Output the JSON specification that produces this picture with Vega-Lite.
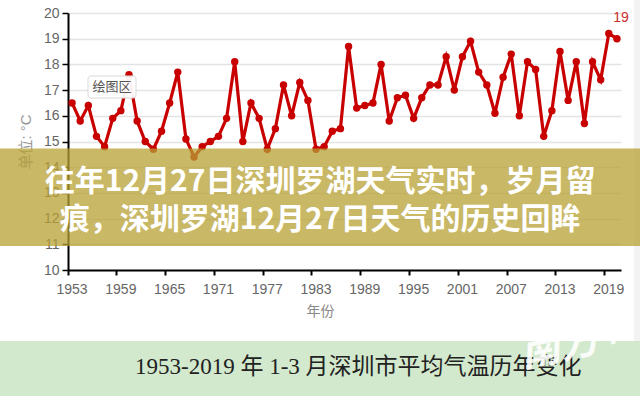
{
  "$schema": "https://vega.github.io/schema/vega-lite/v6.json",
  "width": 553,
  "height": 257,
  "autosize": "none",
  "padding": {"left": 68, "top": 13, "right": 19, "bottom": 126},
  "background": "white",
  "config": {"view": {"stroke": null}, "font": "Liberation Sans, Noto Sans CJK SC"},
  "datasets": {
    "temps": [
      {"year": 1953, "temp": 16.5}, {"year": 1954, "temp": 15.8}, {"year": 1955, "temp": 16.4}, {"year": 1956, "temp": 15.2},
      {"year": 1957, "temp": 14.8}, {"year": 1958, "temp": 15.9}, {"year": 1959, "temp": 16.2}, {"year": 1960, "temp": 17.6},
      {"year": 1961, "temp": 15.8}, {"year": 1962, "temp": 15.0}, {"year": 1963, "temp": 14.7}, {"year": 1964, "temp": 15.4},
      {"year": 1965, "temp": 16.5}, {"year": 1966, "temp": 17.7}, {"year": 1967, "temp": 15.1}, {"year": 1968, "temp": 14.4},
      {"year": 1969, "temp": 14.8}, {"year": 1970, "temp": 15.0}, {"year": 1971, "temp": 15.2}, {"year": 1972, "temp": 15.9},
      {"year": 1973, "temp": 18.1}, {"year": 1974, "temp": 15.0}, {"year": 1975, "temp": 16.5}, {"year": 1976, "temp": 15.9},
      {"year": 1977, "temp": 14.7}, {"year": 1978, "temp": 15.5}, {"year": 1979, "temp": 17.2}, {"year": 1980, "temp": 16.0},
      {"year": 1981, "temp": 17.3}, {"year": 1982, "temp": 16.6}, {"year": 1983, "temp": 14.7}, {"year": 1984, "temp": 14.8},
      {"year": 1985, "temp": 15.4}, {"year": 1986, "temp": 15.5}, {"year": 1987, "temp": 18.7}, {"year": 1988, "temp": 16.3},
      {"year": 1989, "temp": 16.4}, {"year": 1990, "temp": 16.5}, {"year": 1991, "temp": 18.0}, {"year": 1992, "temp": 15.8},
      {"year": 1993, "temp": 16.7}, {"year": 1994, "temp": 16.8}, {"year": 1995, "temp": 15.9}, {"year": 1996, "temp": 16.7},
      {"year": 1997, "temp": 17.2}, {"year": 1998, "temp": 17.2}, {"year": 1999, "temp": 18.3}, {"year": 2000, "temp": 17.0},
      {"year": 2001, "temp": 18.3}, {"year": 2002, "temp": 18.9}, {"year": 2003, "temp": 17.7}, {"year": 2004, "temp": 17.2},
      {"year": 2005, "temp": 16.1}, {"year": 2006, "temp": 17.5}, {"year": 2007, "temp": 18.4}, {"year": 2008, "temp": 16.0},
      {"year": 2009, "temp": 18.1}, {"year": 2010, "temp": 17.8}, {"year": 2011, "temp": 15.2}, {"year": 2012, "temp": 16.2},
      {"year": 2013, "temp": 18.5}, {"year": 2014, "temp": 16.6}, {"year": 2015, "temp": 18.1}, {"year": 2016, "temp": 15.7},
      {"year": 2017, "temp": 18.1}, {"year": 2018, "temp": 17.4}, {"year": 2019, "temp": 19.2}, {"year": 2020, "temp": 19.0}
    ]
  },
  "layer": [
    {
      "data": {"name": "temps"},
      "encoding": {
        "x": {
          "field": "year", "type": "ordinal",
          "scale": {"type": "band", "paddingInner": 0, "paddingOuter": 0},
          "axis": {
            "values": [1953, 1959, 1965, 1971, 1977, 1983, 1989, 1995, 2001, 2007, 2013, 2019],
            "bandPosition": 0, "labelAngle": 0, "grid": false,
            "domainColor": "#000000", "domainWidth": 2, "tickColor": "#000000", "tickWidth": 2, "tickSize": 5,
            "labelColor": "#666666", "labelFontSize": 14, "labelPadding": 7,
            "title": "年份", "titleColor": "#888888", "titleFontSize": 14, "titleFontWeight": "normal", "titlePadding": 8, "titleX": 252
          }
        },
        "y": {
          "field": "temp", "type": "quantitative",
          "scale": {"domain": [10, 20], "zero": false, "nice": false},
          "axis": {
            "values": [10, 11, 12, 13, 14, 15, 16, 17, 18, 19, 20],
            "grid": true, "gridColor": "#e4e4e4", "gridWidth": 1.5,
            "domainColor": "#000000", "domainWidth": 2, "tickColor": "#000000", "tickWidth": 1.5, "tickSize": 6,
            "labelColor": "#666666", "labelFontSize": 14, "labelPadding": 3,
            "title": "单位: °C", "titleColor": "#999999", "titleFontSize": 15, "titleFontWeight": "normal", "titlePadding": 10
          }
        }
      },
      "layer": [
        {"mark": {"type": "line", "color": "#c80000", "strokeWidth": 3.2}},
        {"mark": {"type": "point", "filled": true, "color": "#c80000", "size": 55, "opacity": 1}},
        {
          "transform": [{"filter": "datum.year == 2020"}],
          "mark": {"type": "text", "color": "#c8302c", "fontSize": 14, "dx": 4, "dy": -21},
          "encoding": {"text": {"field": "temp", "type": "quantitative", "format": ".0f"}}
        }
      ]
    },
    {
      "data": {"values": [{}]},
      "layer": [
        {
          "mark": {"type": "rect", "fill": "#d3e9cd", "clip": false},
          "encoding": {
            "x": {"datum": 1944.5, "type": "quantitative", "scale": {"domain": [1953, 2021], "nice": false, "zero": false}, "axis": null},
            "x2": {"datum": 2023.5},
            "y": {"datum": 7.24, "type": "quantitative", "scale": {"domain": [10, 20], "nice": false, "zero": false}, "axis": null},
            "y2": {"datum": 4.8}
          }
        },
        {
          "mark": {"type": "rect", "fill": "#f3f3f3", "clip": false},
          "encoding": {
            "x": {"datum": 2022.6, "type": "quantitative"},
            "x2": {"datum": 2023.5},
            "y": {"datum": 20.6, "type": "quantitative"},
            "y2": {"datum": 7.24}
          }
        },
        {
          "mark": {"type": "rect", "fill": "#b7a033", "opacity": 0.75, "clip": false},
          "encoding": {
            "x": {"datum": 1944.5, "type": "quantitative"},
            "x2": {"datum": 2023.5},
            "y": {"datum": 14.73, "type": "quantitative"},
            "y2": {"datum": 10.93}
          }
        },
        {
          "mark": {"type": "text", "color": "#ffffff", "font": "Noto Sans CJK SC", "fontWeight": "bold", "fontSize": 30, "align": "center", "baseline": "middle", "clip": false},
          "encoding": {
            "x": {"datum": 1984, "type": "quantitative"},
            "y": {"datum": 13.44, "type": "quantitative"},
            "text": {"value": "往年12月27日深圳罗湖天气实时，岁月留"}
          }
        },
        {
          "mark": {"type": "text", "color": "#ffffff", "font": "Noto Sans CJK SC", "fontWeight": "bold", "fontSize": 30, "align": "center", "baseline": "middle", "clip": false},
          "encoding": {
            "x": {"datum": 1984, "type": "quantitative"},
            "y": {"datum": 11.95, "type": "quantitative"},
            "text": {"value": "痕，深圳罗湖12月27日天气的历史回眸"}
          }
        },
        {
          "mark": {"type": "text", "color": "#222222", "font": "Liberation Serif, Noto Sans CJK SC", "fontSize": 23, "align": "center", "baseline": "middle", "clip": false},
          "encoding": {
            "x": {"datum": 1988.7, "type": "quantitative"},
            "y": {"datum": 6.23, "type": "quantitative"},
            "text": {"value": "1953-2019 年 1-3 月深圳市平均气温历年变化"}
          }
        },
        {
          "mark": {"type": "text", "color": "#ffffff", "opacity": 0.9, "font": "Noto Sans CJK SC", "fontStyle": "italic", "fontWeight": "bold", "fontSize": 40, "angle": -12, "align": "center", "baseline": "middle", "clip": false},
          "encoding": {
            "x": {"datum": 2014.9, "type": "quantitative"},
            "y": {"datum": 7.08, "type": "quantitative"},
            "text": {"value": "南方+"}
          }
        },
        {
          "mark": {"type": "rect", "fill": "#ffffff", "stroke": "#d6d6d6", "strokeWidth": 1, "cornerRadius": 3, "opacity": 0.95, "clip": false},
          "encoding": {
            "x": {"datum": 1955.46, "type": "quantitative"},
            "x2": {"datum": 1961.36},
            "y": {"datum": 17.55, "type": "quantitative"},
            "y2": {"datum": 16.69}
          }
        },
        {
          "mark": {"type": "text", "color": "#555555", "font": "Noto Sans CJK SC", "fontSize": 13, "align": "center", "baseline": "middle", "clip": false},
          "encoding": {
            "x": {"datum": 1958.4, "type": "quantitative"},
            "y": {"datum": 17.12, "type": "quantitative"},
            "text": {"value": "绘图区"}
          }
        }
      ]
    }
  ],
  "resolve": {"scale": {"x": "independent", "y": "independent"}}
}
